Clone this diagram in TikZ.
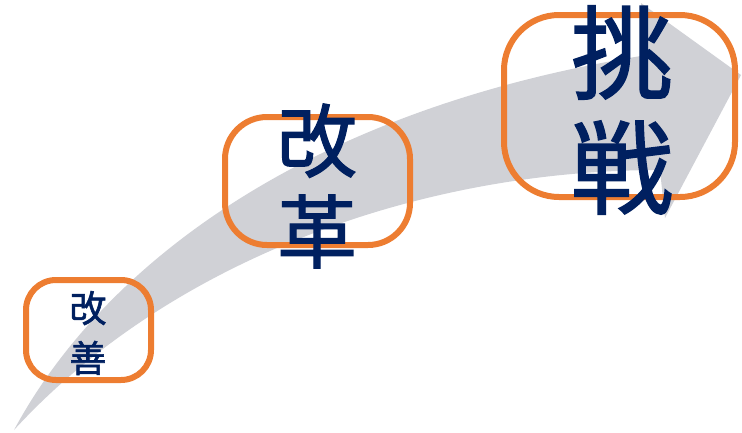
\documentclass[tikz,border=0pt]{standalone}
\usepackage{fontspec}
\newfontfamily\jpfont[FakeBold=1.5]{Noto Sans CJK JP}
\definecolor{ArrowClr}{RGB}{208,209,214}
\definecolor{FrameClr}{RGB}{237,125,49}
\definecolor{TextClr}{RGB}{0,32,96}
\tikzset{
  stagebox/.style={draw=FrameClr,line width=6pt,rounded corners=#1,inner sep=0pt},
  stagetext/.style={text=TextClr,align=center,inner sep=0pt,font=\jpfont}
}

\begin{document}
\begin{tikzpicture}[x=1pt,y=-1pt]
\useasboundingbox (0,0) rectangle (742,432);

\fill[ArrowClr] (14,430) .. controls (100,270) and (300,110) .. (647,55)
  -- (641,3) -- (741,75) -- (665,218) -- (660,170)
  .. controls (420,170) and (170,260) .. (14,430) -- cycle;

\node[stagebox=30pt,minimum width=125pt,minimum height=100pt] (kaizenbox) at (88.5,330) {};
\node[stagebox=42pt,minimum width=185pt,minimum height=128pt] (kaikakubox) at (317.5,181) {};
\node[stagebox=55pt,minimum width=231pt,minimum height=182pt] (chosenbox) at (619.5,106) {};

\node[stagetext,font=\jpfont\fontsize{37}{50}\selectfont] (kaizen) at (88,333) {改\\善};
\node[stagetext,font=\jpfont\fontsize{80}{91}\selectfont] (kaikaku) at (317,186) {改\\革};
\node[stagetext,font=\jpfont\fontsize{102}{115}\selectfont] (chosen) at (622,110) {挑\\戦};

\end{tikzpicture}
\end{document}
